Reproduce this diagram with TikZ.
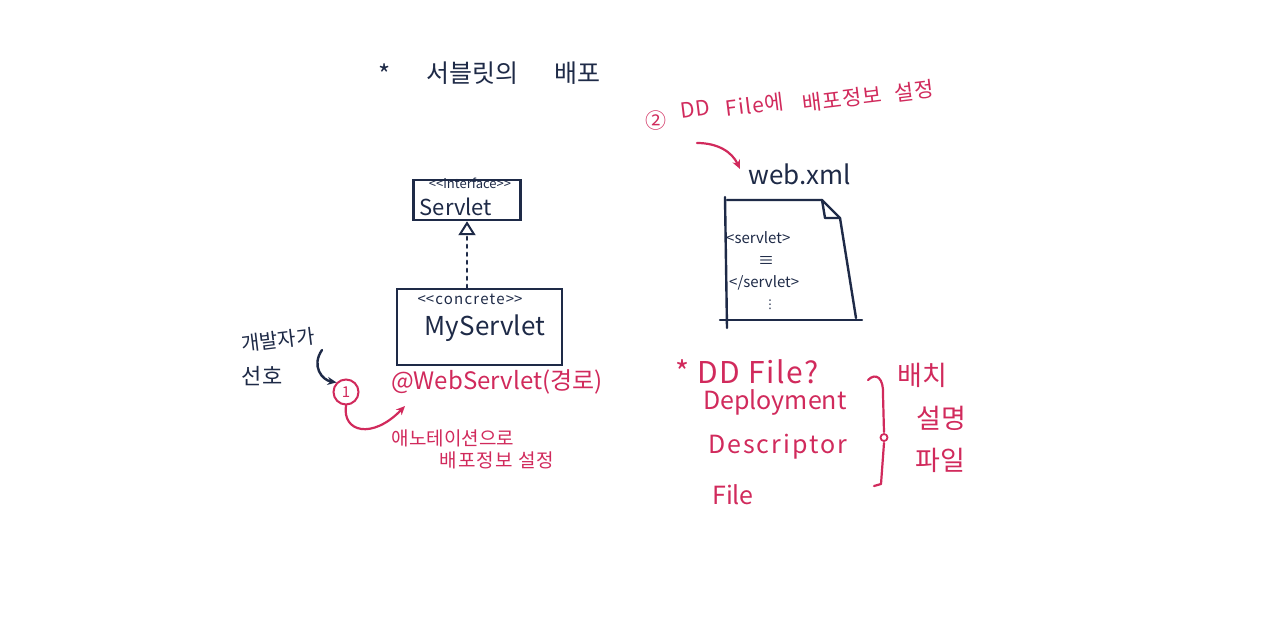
\documentclass[tikz,border=0pt]{standalone}
\usepackage{fontspec}
\setmainfont{Noto Sans CJK KR}
\newfontfamily\dejavu{DejaVu Sans}
\usetikzlibrary{arrows.meta,calc}
\definecolor{ink}{HTML}{1E2A47}
\definecolor{pen}{HTML}{D12A5C}
\newcommand{\fs}[1]{\fontsize{#1}{#1}\selectfont}
\newcommand{\lsp}[1]{\addfontfeature{LetterSpace=#1}}
\begin{document}
\begin{tikzpicture}[x=1pt,y=-1pt,
  navy/.style={text=ink,inner sep=0pt},
  redt/.style={text=pen,inner sep=0pt},
  tilted/.style={redt,font=\fs{21}\lsp{5},rotate=7},
  umlbox/.style={draw=ink,line width=2.4pt,inner sep=0pt},
  inkline/.style={draw=ink,line width=2.4pt,line cap=round,line join=round},
  penline/.style={draw=pen,line width=2.2pt,line cap=round,line join=round},
  penarrow/.style={penline,-{Stealth[length=9pt,width=8pt]}},
  inkarrow/.style={inkline,-{Stealth[length=9pt,width=8pt]}}]
\useasboundingbox[fill=white] (0,0) rectangle (1280,635);

% title
\node[navy,font=\fs{26}] (tstar) at (385,74) {*};
\node[navy,font=\fs{25}] (t1) at (472,73) {서블릿의};
\node[navy,font=\fs{25}] (t2) at (577,73) {배포};

% Servlet interface box
\node[umlbox,minimum width=107,minimum height=40] (servlet) at (467,200) {};
\node[navy,font=\fs{13}] (iface) at (470,183) {<\kern0pt<interface>\kern0pt>};
\node[navy,font=\fs{22}] (sname) at (456,207) {Servlet};

% MyServlet box
\node[umlbox,minimum width=165,minimum height=76] (myservlet) at (479.5,327) {};
\node[navy,font=\fs{15}\lsp{8}] (concr) at (470,299) {<\kern0pt<concrete>\kern0pt>};
\node[navy,font=\fs{26}] (mname) at (485,328) {MyServlet};

% realization
\draw[inkline,dash pattern=on 3pt off 5pt,-{Triangle[open,length=14pt,width=17pt,line width=2pt]}]
  (servlet.south |- myservlet.north) -- (servlet.south);

% developer preference
\node[navy,font=\fs{20},rotate=7] (dev) at (278,340) {개발자가};
\node[navy,font=\fs{22}] (pref) at (262,376) {선호};
\coordinate (hs) at (322,350);
\node[circle,draw=pen,line width=2pt,minimum size=25,inner sep=0pt,text=pen,font=\fs{15}] (c1) at (346,392) {1};
\draw[inkarrow] (hs) .. controls (311,366) and (322,380) .. (c1.north west);

% annotation
\node[redt,font=\fs{24},anchor=west] (ws) at (391,382) {@WebServlet(경로)};
\coordinate (wsend) at (405,406);
\draw[penarrow] (c1.south) .. controls (342,432) and (372,440) .. (wsend);
\node[redt,font=\fs{19}] (ann1) at (453,438) {애노테이션으로};
\node[redt,font=\fs{19}\lsp{6}] (ann2) at (497,460) {배포정보 설정};

% DD file label
\node[redt,font=\fs{21}] (l2a) at (656,121) {②};
\node[tilted] (l2b) at (695,109) {DD};
\node[tilted] (l2c) at (755,105) {File에};
\node[tilted] (l2d) at (842,99) {배포정보};
\node[tilted] (l2e) at (914,91) {설정};
\coordinate (l2s) at (697,143);
\node[navy,font=\fs{26}] (webxml) at (800,174) {web.xml};
\draw[penarrow] (l2s) .. controls (718,143) and (732,152) .. (740,169);

% document
\draw[inkline] (725,197) -- (727,328);
\draw[inkline] (727,200) -- (822,200) -- (840,218) -- (856,318);
\draw[inkline] (822,200) -- (825,218) -- (840,218);
\draw[inkline] (720,320) -- (862,320);
\node[navy,font=\fs{15},anchor=west] (s1) at (726,238) {<servlet>};
\node[navy,font=\fs{16}] (s2) at (766,262) {≡};
\node[navy,font=\fs{15},anchor=west] (s3) at (729,283) {</servlet>};
\node[navy,font=\dejavu\fs{12}] (s4) at (770,305) {⋮};

% DD explanation
\node[redt,font=\fs{30}\lsp{5},anchor=west] (dd) at (675,372) {* DD File?};
\node[redt,font=\fs{25},anchor=west] (d1) at (703,402) {Deployment};
\node[redt,font=\fs{25}\lsp{8},anchor=west] (d2) at (708,447) {Descriptor};
\node[redt,font=\fs{25},anchor=west] (d3) at (712,495) {File};

% brace
\draw[penline] (868,380) .. controls (876,372) and (884,378) .. (883,395) -- (884,432);
\draw[penline] (884,443) -- (881,484) -- (874,486);
\draw[draw=pen,line width=1.8pt] (884,437.5) circle (3.5);
\node[redt,font=\fs{27}] (k1) at (922,375) {배치};
\node[redt,font=\fs{27}] (k2) at (941,418) {설명};
\node[redt,font=\fs{27}] (k3) at (940,460) {파일};
\end{tikzpicture}
\end{document}
